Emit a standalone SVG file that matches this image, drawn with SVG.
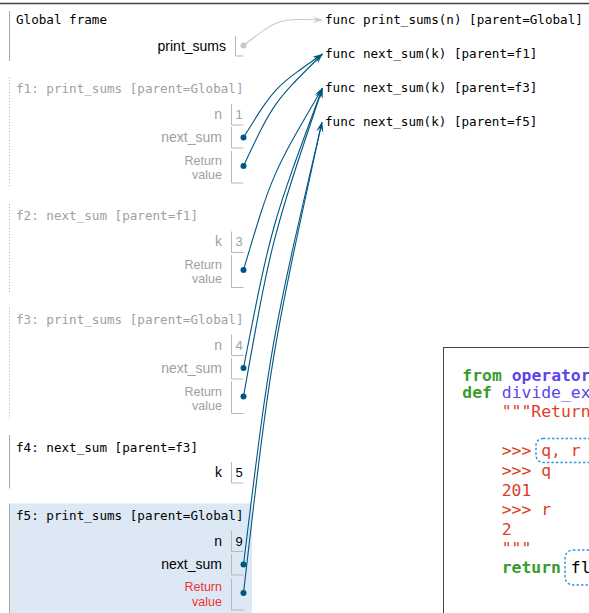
<svg xmlns="http://www.w3.org/2000/svg" width="589" height="613" viewBox="0 0 589 613">
<defs>
<style>
.mono{font-family:"DejaVu Sans Mono","Liberation Mono",monospace;font-size:12.6px}
.sans{font-family:"Liberation Sans",Arial,sans-serif}
.var{font-size:14px;text-anchor:end}
.ret{font-size:12.5px;text-anchor:end}
.val{font-size:13px}
.on{fill:#000}
.off{fill:#a0a0a0}
.red{fill:#ee3333}
.cell{fill:none;stroke:#b8b8b8;stroke-width:1}
.edge{fill:none;stroke:#a8a8a8;stroke-width:1}
.zedge{fill:none;stroke:#b0b0b0;stroke-width:1;stroke-dasharray:1,2}
.conn{fill:none;stroke:#005583;stroke-width:1.1;marker-end:url(#ah)}
.gconn{fill:none;stroke:#c8c8c8;stroke-width:1.1;marker-end:url(#gah)}
.dot{fill:#005583}
.gdot{fill:#c8c8c8}
.code{font-family:"DejaVu Sans Mono","Liberation Mono",monospace;font-size:16.4px}
.kw{fill:#3c9a2c;font-weight:bold}
.nm{fill:#5b45ee}
.b{font-weight:bold}
.str{fill:#dd4028}
.hl{fill:none;stroke:#3399dd;stroke-width:1.5;stroke-dasharray:2.5,2}
</style>
<marker id="ah" viewBox="-11 -4 12 8" refX="0" refY="0" markerWidth="12" markerHeight="8" markerUnits="userSpaceOnUse" orient="auto"><path d="M0,0 L-10,-3.5 L-5.5,0 L-10,3.5 Z" fill="#005583"/></marker>
<marker id="gah" viewBox="-11 -4 12 8" refX="0" refY="0" markerWidth="12" markerHeight="8" markerUnits="userSpaceOnUse" orient="auto"><path d="M0,0 L-10,-3.5 L-5.5,0 L-10,3.5 Z" fill="#c8c8c8"/></marker>
</defs>
<rect width="589" height="613" fill="#fff"/>
<line x1="0" y1="3.5" x2="589" y2="3.5" stroke="#444" stroke-width="1.3"/>

<g id="global-frame">
<line class="edge" x1="9.5" y1="11" x2="9.5" y2="61"/>
<text class="mono on" x="16" y="24">Global frame</text>
<text class="sans var on" x="226" y="50.5">print_sums</text>
<path class="cell" d="M235.5,36 V56 H243.5"/>
</g>

<g id="f1">
<line class="zedge" x1="9.5" y1="77" x2="9.5" y2="188"/>
<text class="mono off" x="16" y="93">f1: print_sums [parent=Global]</text>
<text class="sans var off" x="222" y="119">n</text>
<path class="cell" d="M231.5,104 V125 H243.5"/>
<text class="sans val off" x="235.5" y="119">1</text>
<text class="sans var off" x="222" y="142">next_sum</text>
<path class="cell" d="M231.5,127 V148 H243.5"/>
<text class="sans ret off" x="222" y="165">Return</text>
<text class="sans ret off" x="222" y="179">value</text>
<path class="cell" d="M231.5,151 V183 H243.5"/>
</g>

<g id="f2">
<line class="zedge" x1="9.5" y1="204" x2="9.5" y2="292.5"/>
<text class="mono off" x="16" y="220">f2: next_sum [parent=f1]</text>
<text class="sans var off" x="222" y="246">k</text>
<path class="cell" d="M231.5,231.5 V252.5 H243.5"/>
<text class="sans val off" x="235.5" y="246">3</text>
<text class="sans ret off" x="222" y="268.5">Return</text>
<text class="sans ret off" x="222" y="282.5">value</text>
<path class="cell" d="M231.5,255 V287.5 H243.5"/>
</g>

<g id="f3">
<line class="zedge" x1="9.5" y1="307.5" x2="9.5" y2="419"/>
<text class="mono off" x="16" y="323.5">f3: print_sums [parent=Global]</text>
<text class="sans var off" x="222" y="349.5">n</text>
<path class="cell" d="M231.5,334.5 V355.5 H243.5"/>
<text class="sans val off" x="235.5" y="349.5">4</text>
<text class="sans var off" x="222" y="372.5">next_sum</text>
<path class="cell" d="M231.5,358 V379 H243.5"/>
<text class="sans ret off" x="222" y="395.5">Return</text>
<text class="sans ret off" x="222" y="409.5">value</text>
<path class="cell" d="M231.5,381.5 V413.5 H243.5"/>
</g>

<g id="f4">
<line class="edge" x1="9.5" y1="435" x2="9.5" y2="488.5"/>
<text class="mono on" x="16" y="451.5">f4: next_sum [parent=f3]</text>
<text class="sans var on" x="222" y="477">k</text>
<path class="cell" d="M231.5,462 V483 H243.5"/>
<text class="sans val on" x="235.5" y="477">5</text>
</g>

<g id="f5">
<rect x="9.5" y="503.5" width="242.5" height="110" fill="#dde8f5"/>
<line class="edge" x1="9.5" y1="503.5" x2="9.5" y2="613"/>
<text class="mono on" x="16" y="520">f5: print_sums [parent=Global]</text>
<text class="sans var on" x="222" y="545.5">n</text>
<path class="cell" d="M231.5,530.5 V551.5 H243.5"/>
<text class="sans val on" x="235.5" y="545.5">9</text>
<text class="sans var on" x="222" y="568.5">next_sum</text>
<path class="cell" d="M231.5,554 V575 H243.5"/>
<text class="sans ret red" x="222" y="591">Return</text>
<text class="sans ret red" x="222" y="605.5">value</text>
<path class="cell" d="M231.5,578.5 V610 H243.5"/>
</g>

<g id="func-print_sums">
<text class="mono on" x="325" y="24">func print_sums(n) [parent=Global]</text>
</g>
<g id="func-next_sum-f1">
<text class="mono on" x="325" y="58">func next_sum(k) [parent=f1]</text>
</g>
<g id="func-next_sum-f3">
<text class="mono on" x="325" y="92">func next_sum(k) [parent=f3]</text>
</g>
<g id="func-next_sum-f5">
<text class="mono on" x="325" y="126">func next_sum(k) [parent=f5]</text>
</g>

<g id="code-panel">
<rect x="443.5" y="347.5" width="200" height="300" fill="#fff" stroke="#444" stroke-width="1"/>
<text class="code" x="462.3" y="380.5"><tspan class="kw">from</tspan> <tspan class="nm b">operator</tspan></text>
<text class="code" x="462.3" y="398"><tspan class="kw">def</tspan> <tspan class="nm">divide_ex</tspan></text>
<text class="code str" x="501.7" y="417">"""Return</text>
<rect class="hl" x="536" y="438.5" width="80" height="24" rx="7"/>
<text class="code str" x="501.7" y="456">&gt;&gt;&gt; q, r</text>
<text class="code str" x="501.7" y="476">&gt;&gt;&gt; q</text>
<text class="code str" x="501.7" y="495.5">201</text>
<text class="code str" x="501.7" y="515">&gt;&gt;&gt; r</text>
<text class="code str" x="501.7" y="534.5">2</text>
<text class="code str" x="501.7" y="553.5">"""</text>
<rect class="hl" x="565" y="550" width="60" height="35" rx="8"/>
<text class="code" x="501.7" y="573"><tspan class="kw">return</tspan> <tspan fill="#000">fl</tspan></text>
</g>

<g id="connectors">
<path class="gconn" d="M243.5,45.5 C278.4,18.5 278.4,18.5 322.5,20"/>
<path class="conn" d="M243.5,137.5 C274.3,87.5 274.3,87.5 322.5,54"/>
<path class="conn" d="M243.5,166 C273.2,102.8 273.2,102.8 322.5,54"/>
<path class="conn" d="M243.5,270 C272,174.2 272,174.2 322.5,88"/>
<path class="conn" d="M243.5,368 C271.45,225 271.45,225 322.5,88"/>
<path class="conn" d="M243.5,396.5 C271.4,239.8 271.4,239.8 322.5,88"/>
<path class="conn" d="M243.5,564.5 C270.9,341.2 270.9,341.2 322,122"/>
<path class="conn" d="M243.5,593 C270.9,355.3 270.9,355.3 322,122"/>
<circle class="gdot" cx="243.5" cy="45.5" r="3"/>
<circle class="dot" cx="243.5" cy="137.5" r="3"/>
<circle class="dot" cx="243.5" cy="166" r="3"/>
<circle class="dot" cx="243.5" cy="270" r="3"/>
<circle class="dot" cx="243.5" cy="368" r="3"/>
<circle class="dot" cx="243.5" cy="396.5" r="3"/>
<circle class="dot" cx="243.5" cy="564.5" r="3"/>
<circle class="dot" cx="243.5" cy="593" r="3"/>
</g>
</svg>
